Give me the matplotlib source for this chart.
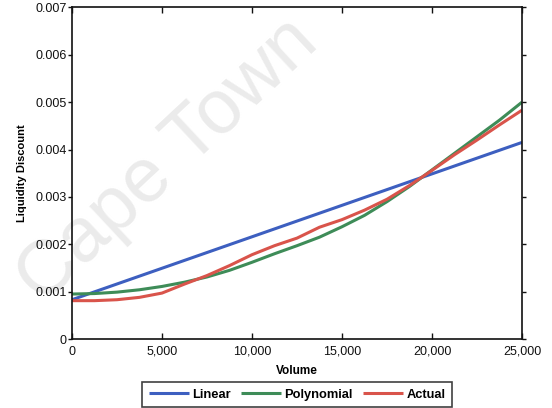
import matplotlib
matplotlib.use("Agg")
import matplotlib.pyplot as plt
from matplotlib.ticker import FuncFormatter, MultipleLocator

plt.rcParams['font.family'] = ['Liberation Sans', 'DejaVu Sans']

# Trading volume grid and liquidity discount estimates
volume = [0, 1250, 2500, 3750, 5000, 6250, 7500, 8750, 10000, 11250, 12500,
          13750, 15000, 16250, 17500, 18750, 20000, 21250, 22500, 23750, 25000]

linear_volume = [0, 25000]
linear_discount = [0.00083, 0.00415]

polynomial_discount = [0.00095, 0.00096, 0.00099, 0.00104, 0.00111, 0.00120,
                       0.00131, 0.00145, 0.00162, 0.00180, 0.00197, 0.00215,
                       0.00237, 0.00261, 0.00290, 0.00322, 0.00357, 0.00392,
                       0.00427, 0.00462, 0.00500]

actual_discount = [0.00081, 0.00081, 0.00083, 0.00088, 0.00097, 0.00116,
                   0.00134, 0.00155, 0.00178, 0.00197, 0.00213, 0.00236,
                   0.00252, 0.00272, 0.00295, 0.00324, 0.00356, 0.00389,
                   0.00420, 0.00452, 0.00483]

series_names = ["Linear", "Polynomial", "Actual"]
series_colors = ["#3d5fc0", "#3e8c58", "#d9544b"]

fig = plt.figure(figsize=(5.52, 4.08), dpi=100)

# faint diagonal watermark behind the plot
fig.text(0.305, 0.605, "Cape Town", fontsize=55, color="#ebebeb",
         rotation=43, ha="center", va="center", zorder=-5)

ax = fig.add_axes([0.1304, 0.169, 0.8153, 0.813])
ax.patch.set_alpha(0)

ax.plot(linear_volume, linear_discount, color=series_colors[0], lw=2.2,
        label=series_names[0], solid_capstyle="butt")
ax.plot(volume, polynomial_discount, color=series_colors[1], lw=2.2,
        label=series_names[1], solid_capstyle="butt")
ax.plot(volume, actual_discount, color=series_colors[2], lw=2.2,
        label=series_names[2], solid_capstyle="butt")

ax.set_xlim(0, 25000)
ax.set_ylim(0, 0.007)
ax.xaxis.set_major_locator(MultipleLocator(5000))
ax.yaxis.set_major_locator(MultipleLocator(0.001))
ax.xaxis.set_major_formatter(FuncFormatter(lambda v, p: f"{int(v):,}"))
ax.yaxis.set_major_formatter(FuncFormatter(lambda v, p: "0" if abs(v) < 1e-12 else f"{v:.3f}"))

for s in ax.spines.values():
    s.set_linewidth(1.2)
    s.set_color("#111111")

ax.tick_params(axis="both", which="major", labelsize=9, length=4, width=1,
               colors="#111111", direction="in", top=True, right=True)
ax.tick_params(axis="x", pad=5)
ax.tick_params(axis="y", direction="out", length=3, pad=1)

ax.set_xlabel("Volume", fontsize=8.5, fontweight="bold", labelpad=5)
ax.set_ylabel("Liquidity Discount", fontsize=8, fontweight="bold", labelpad=6)

leg = ax.legend(loc="upper center", bbox_to_anchor=(0.5, -0.13), ncol=3,
                frameon=True, fancybox=False, edgecolor="#111111",
                fontsize=9.3, handlelength=3.1, handletextpad=0.25,
                columnspacing=0.8, borderpad=0.5, borderaxespad=0)
leg.get_frame().set_linewidth(1.2)
for t in leg.get_texts():
    t.set_fontweight("bold")

fig.savefig("out.png", dpi=100)
